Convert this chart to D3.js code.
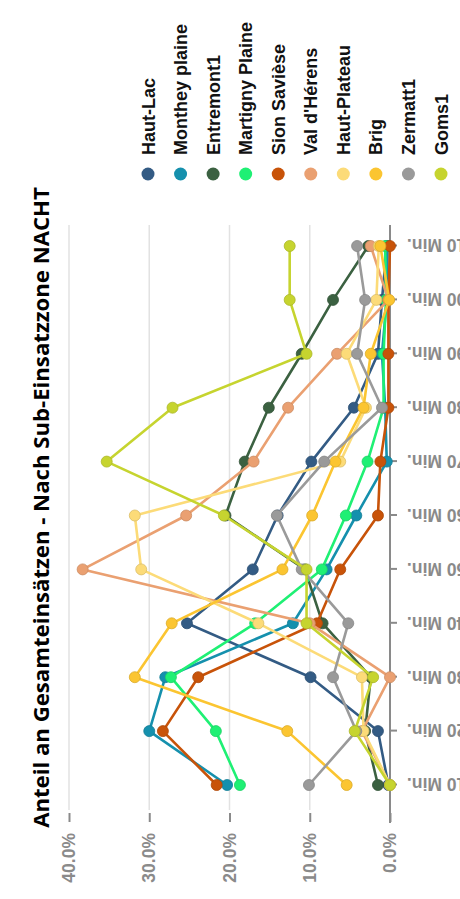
<!DOCTYPE html>
<html>
<head>
<meta charset="utf-8">
<script src="https://cdn.jsdelivr.net/npm/d3@7"></script>
<style>
  body { margin: 0; background: #fff; }
  svg { display: block; }
  .tick text { font-family: "Liberation Sans", Arial, sans-serif; font-weight: bold; fill: #8a8a8a; }
</style>
</head>
<body>
<svg id="chart"></svg>
<script>
var categories = ["10 Min.", "20 Min.", "30 Min.", "40 Min.", "50 Min.", "60 Min.",
                  "70 Min.", "80 Min.", "90 Min.", "100 Min.", "110 Min."];
var yTicks = [0, 10, 20, 30, 40];

var seriesNames = ["Haut-Lac", "Monthey plaine", "Entremont1", "Martigny Plaine", "Sion Savièse",
                   "Val d'Hérens", "Haut-Plateau", "Brig", "Zermatt1", "Goms1"];
var seriesColors = ["#335b84", "#1590ad", "#3b6141", "#1ff074", "#c85309",
                    "#eaa071", "#fcdb78", "#fbc531", "#9a9a9a", "#c6d42f"];

// share in percent, one value per category
var hautLac      = [0.2, 1.5, 9.9, 25.3, 17.1, 14.0, 9.8, 4.5, 1.5, 1.0, 0.4];
var montheyPl    = [20.3, 30.0, 28.0, 12.1, 7.9, 4.2, 0.4, 0.6, 1.0, 0.4, 0.3];
var entremont    = [1.5, 3.1, 2.4, 8.4, 10.6, 20.5, 18.1, 15.1, 11.0, 7.1, 2.7];
var martignyPl   = [18.7, 21.7, 27.3, 16.8, 8.5, 5.5, 2.8, 0.8, 0.8, 0.5, 0.6];
var sionSaviese  = [21.6, 28.3, 23.9, 9.1, 6.2, 1.5, 1.2, 0.2, 0.2, 0.2, 0.0];
var valHerens    = [0.0, 3.5, 0.0, 10.0, 38.3, 25.4, 17.0, 12.7, 6.6, 0.2, 2.4];
var hautPlateau  = [0.0, 3.3, 3.5, 16.4, 31.0, 31.8, 6.2, 3.0, 5.4, 1.7, 1.4];
var brig         = [5.4, 12.8, 31.8, 27.2, 13.4, 9.7, 6.8, 3.3, 2.4, 0.1, 1.2];
var zermatt      = [10.1, 4.2, 7.1, 5.2, 11.0, 14.1, 8.2, 1.0, 4.1, 3.1, 4.1];
var goms         = [0.0, 4.4, 2.1, 10.4, 10.4, 20.7, 35.3, 27.1, 10.4, 12.5, 12.5];

var seriesValues = [hautLac, montheyPl, entremont, martignyPl, sionSaviese,
                    valHerens, hautPlateau, brig, zermatt, goms];

var W = 460, H = 899;

var svg = d3.select("#chart").attr("width", W).attr("height", H);

// whole chart is drawn turned a quarter turn counter-clockwise
var g = svg.append("g")
    .attr("transform", "translate(0," + H + ") rotate(-90)");

var x = d3.scalePoint().domain(categories).range([114, 653]);
var y = d3.scaleLinear().domain([0, 40]).range([390, 69]);

// grid
g.append("g").selectAll("line")
    .data(yTicks.filter(function(d) { return d > 0; }))
    .enter().append("line")
    .attr("x1", 89).attr("x2", 674)
    .attr("y1", function(d) { return y(d); })
    .attr("y2", function(d) { return y(d); })
    .attr("stroke", "#e2e2e2")
    .attr("stroke-width", 1.5);

// value axis
var yAxis = g.append("g")
    .attr("transform", "translate(86,0)")
    .call(d3.axisLeft(y).tickValues(yTicks).tickSize(9).tickPadding(11)
          .tickFormat(function(d) { return d.toFixed(1) + "%"; }));
yAxis.select(".domain").remove();
yAxis.selectAll(".tick line").attr("stroke", "#8a8a8a").attr("stroke-width", 2);
yAxis.selectAll(".tick text").style("font-size", "17.5px");

// category axis
var xAxis = g.append("g")
    .attr("transform", "translate(0,390)")
    .call(d3.axisBottom(x).tickSize(7));
xAxis.select(".domain").remove();
xAxis.selectAll(".tick line").attr("stroke", "#8a8a8a").attr("stroke-width", 2);
xAxis.selectAll(".tick text")
    .attr("transform", "rotate(-90)")
    .attr("text-anchor", "end")
    .attr("x", -17).attr("y", 0).attr("dy", "0.35em")
    .style("font-size", "17.5px");
g.append("line")
    .attr("x1", 76).attr("x2", 674)
    .attr("y1", 390).attr("y2", 390)
    .attr("stroke", "#8a8a8a").attr("stroke-width", 2);

// series
var line = d3.line()
    .x(function(d, i) { return x(categories[i]); })
    .y(function(d) { return y(d); });

seriesValues.forEach(function(vals, s) {
    var c = seriesColors[s];
    var sg = g.append("g").attr("class", "series");
    sg.append("path")
        .attr("d", line(vals))
        .attr("fill", "none")
        .attr("stroke", c)
        .attr("stroke-width", 2.6)
        .attr("stroke-linejoin", "round");
    sg.selectAll("circle")
        .data(vals)
        .enter().append("circle")
        .attr("cx", function(d, i) { return x(categories[i]); })
        .attr("cy", function(d) { return y(d); })
        .attr("r", 5.5)
        .attr("fill", c)
        .attr("stroke", d3.color(c).darker(0.4))
        .attr("stroke-width", 0.8);
});

// legend
var lg = d3.scalePoint().domain(seriesNames).range([148, 441]);
var legend = g.append("g").selectAll("g")
    .data(seriesNames)
    .enter().append("g");
legend.append("circle")
    .attr("cx", 725)
    .attr("cy", function(d) { return lg(d); })
    .attr("r", 6.5)
    .attr("fill", function(d, i) { return seriesColors[i]; });
legend.append("text")
    .attr("x", 744)
    .attr("y", function(d) { return lg(d) + 6.5; })
    .style("font-family", "'Liberation Sans', Arial, sans-serif")
    .style("font-weight", "bold")
    .style("font-size", "18px")
    .attr("fill", "#111")
    .text(function(d) { return d; });

// title
var title = g.append("text")
    .attr("x", 391.5)
    .attr("y", 49)
    .attr("text-anchor", "middle")
    .style("font-family", "'Open Sans', sans-serif")
    .style("font-weight", "bold")
    .style("font-size", "20px")
    .attr("fill", "#000")
    .text("Anteil an Gesamteinsätzen - Nach Sub-Einsatzzone NACHT");
var tl = title.node().getComputedTextLength();
title.style("font-size", (20 * 641 / tl).toFixed(2) + "px");
</script>
</body>
</html>
